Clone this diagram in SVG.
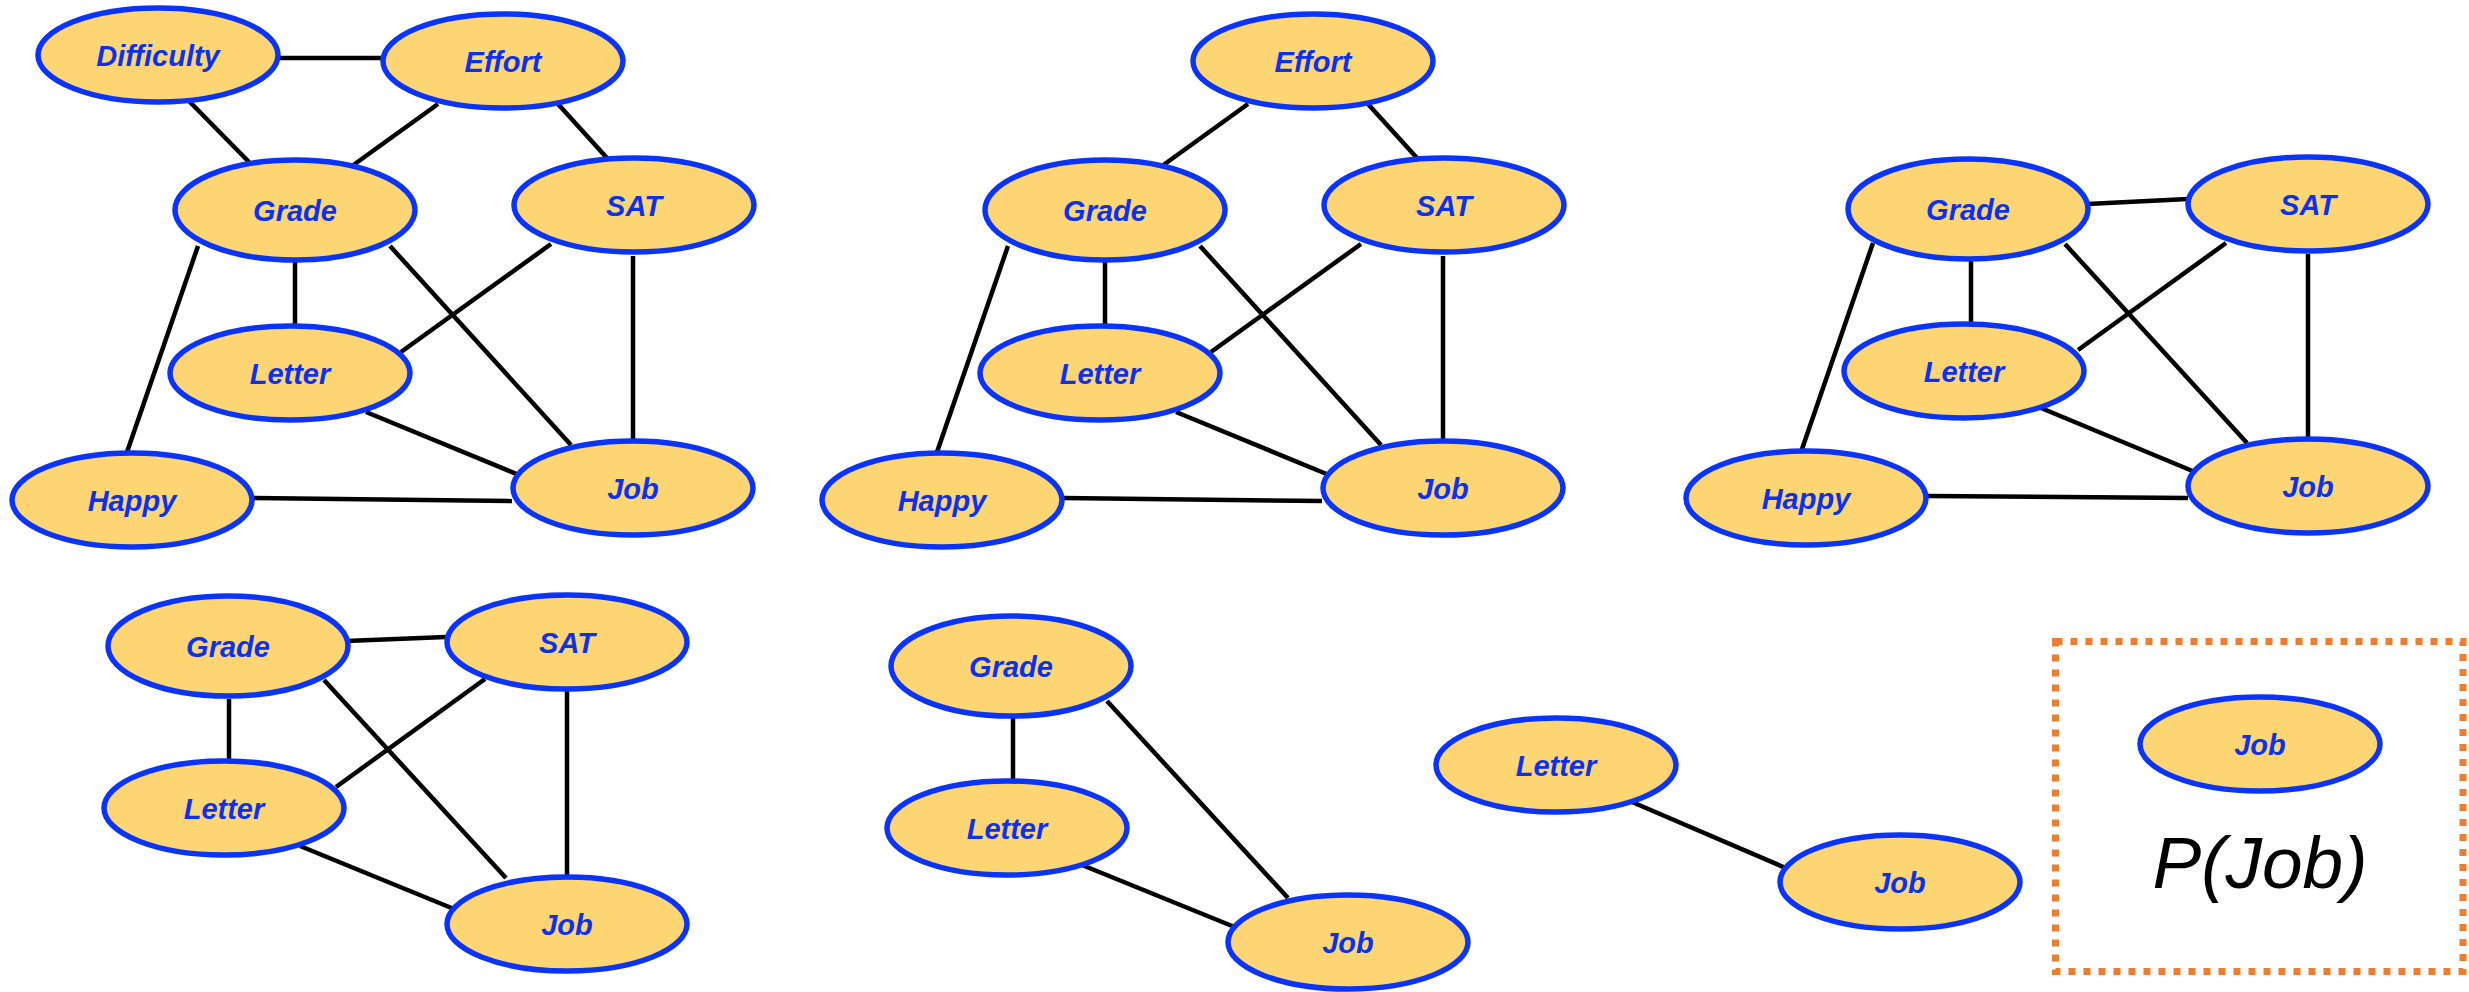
<svg xmlns="http://www.w3.org/2000/svg" width="2469" height="992" viewBox="0 0 2469 992">
<style>
.bg{fill:#ffffff}
.node ellipse{fill:#FDD673;stroke:#0A34FA;stroke-width:5.5}
.node text{font-family:"Liberation Sans",Arial,sans-serif;font-weight:bold;font-style:italic;font-size:29px;fill:#0A30F0;text-anchor:middle}
#connectors line{stroke:#000000;stroke-width:4.5;stroke-linecap:butt}
.box{fill:none;stroke:#ED7D31;stroke-width:7;stroke-dasharray:7 8}
.formula{font-family:"Liberation Sans",Arial,sans-serif;font-style:italic;font-size:73px;fill:#000000;text-anchor:middle}
</style>
<rect class="bg" x="0" y="0" width="2469" height="992"/>
<g id="connectors">
<!-- panel 1 -->
<line x1="279" y1="58" x2="382" y2="58"/>
<line x1="188" y1="100" x2="249" y2="162"/>
<line x1="438" y1="104" x2="352" y2="166"/>
<line x1="558" y1="104" x2="607" y2="158"/>
<line x1="295" y1="262" x2="295" y2="324"/>
<line x1="198" y1="246" x2="126" y2="455"/>
<line x1="390" y1="246" x2="571" y2="445"/>
<line x1="551" y1="244" x2="401" y2="352"/>
<line x1="633" y1="256" x2="633" y2="441"/>
<line x1="366" y1="412" x2="519" y2="475"/>
<line x1="253" y1="498" x2="512" y2="501"/>
<!-- panel 2 -->
<line x1="1248" y1="104" x2="1162" y2="166"/>
<line x1="1368" y1="104" x2="1417" y2="158"/>
<line x1="1105" y1="262" x2="1105" y2="324"/>
<line x1="1008" y1="246" x2="936" y2="455"/>
<line x1="1200" y1="246" x2="1381" y2="445"/>
<line x1="1361" y1="244" x2="1211" y2="352"/>
<line x1="1443" y1="256" x2="1443" y2="441"/>
<line x1="1176" y1="412" x2="1329" y2="475"/>
<line x1="1063" y1="498" x2="1322" y2="501"/>
<!-- panel 3 -->
<line x1="2087" y1="204" x2="2188" y2="199"/>
<line x1="1971" y1="261" x2="1971" y2="322"/>
<line x1="1873" y1="243" x2="1801" y2="452"/>
<line x1="2065" y1="244" x2="2247" y2="443"/>
<line x1="2226" y1="243" x2="2078" y2="350"/>
<line x1="2308" y1="254" x2="2308" y2="438"/>
<line x1="2041" y1="408" x2="2195" y2="472"/>
<line x1="1927" y1="496" x2="2188" y2="498"/>
<!-- panel 4 -->
<line x1="346" y1="641" x2="446" y2="637"/>
<line x1="229" y1="699" x2="229" y2="759"/>
<line x1="324" y1="680" x2="506" y2="878"/>
<line x1="485" y1="679" x2="336" y2="787"/>
<line x1="567" y1="691" x2="567" y2="875"/>
<line x1="300" y1="846" x2="454" y2="909"/>
<!-- panel 5 -->
<line x1="1013" y1="717" x2="1013" y2="779"/>
<line x1="1107" y1="701" x2="1288" y2="898"/>
<line x1="1082" y1="865" x2="1237" y2="928"/>
<!-- panel 6 -->
<line x1="1632" y1="802" x2="1788" y2="869"/>
</g>
<!-- panel 1 nodes -->
<g id="p1-difficulty" class="node"><ellipse cx="158" cy="55" rx="120" ry="47"/><text x="158" y="65.5">Difficulty</text></g>
<g id="p1-effort" class="node"><ellipse cx="503" cy="61" rx="120" ry="47"/><text x="503" y="71.5">Effort</text></g>
<g id="p1-grade" class="node"><ellipse cx="295" cy="210" rx="120" ry="50"/><text x="295" y="220.5">Grade</text></g>
<g id="p1-sat" class="node"><ellipse cx="634" cy="205" rx="120" ry="47"/><text x="634" y="215.5">SAT</text></g>
<g id="p1-letter" class="node"><ellipse cx="290" cy="373" rx="120" ry="47"/><text x="290" y="383.5">Letter</text></g>
<g id="p1-happy" class="node"><ellipse cx="132" cy="500" rx="120" ry="47"/><text x="132" y="510.5">Happy</text></g>
<g id="p1-job" class="node"><ellipse cx="633" cy="488" rx="120" ry="47"/><text x="633" y="498.5">Job</text></g>
<!-- panel 2 nodes -->
<g id="p2-effort" class="node"><ellipse cx="1313" cy="61" rx="120" ry="47"/><text x="1313" y="71.5">Effort</text></g>
<g id="p2-grade" class="node"><ellipse cx="1105" cy="210" rx="120" ry="50"/><text x="1105" y="220.5">Grade</text></g>
<g id="p2-sat" class="node"><ellipse cx="1444" cy="205" rx="120" ry="47"/><text x="1444" y="215.5">SAT</text></g>
<g id="p2-letter" class="node"><ellipse cx="1100" cy="373" rx="120" ry="47"/><text x="1100" y="383.5">Letter</text></g>
<g id="p2-happy" class="node"><ellipse cx="942" cy="500" rx="120" ry="47"/><text x="942" y="510.5">Happy</text></g>
<g id="p2-job" class="node"><ellipse cx="1443" cy="488" rx="120" ry="47"/><text x="1443" y="498.5">Job</text></g>
<!-- panel 3 nodes -->
<g id="p3-grade" class="node"><ellipse cx="1968" cy="209" rx="120" ry="50"/><text x="1968" y="219.5">Grade</text></g>
<g id="p3-sat" class="node"><ellipse cx="2308" cy="204" rx="120" ry="47"/><text x="2308" y="214.5">SAT</text></g>
<g id="p3-letter" class="node"><ellipse cx="1964" cy="371" rx="120" ry="47"/><text x="1964" y="381.5">Letter</text></g>
<g id="p3-happy" class="node"><ellipse cx="1806" cy="498" rx="120" ry="47"/><text x="1806" y="508.5">Happy</text></g>
<g id="p3-job" class="node"><ellipse cx="2308" cy="486" rx="120" ry="47"/><text x="2308" y="496.5">Job</text></g>
<!-- panel 4 nodes -->
<g id="p4-grade" class="node"><ellipse cx="228" cy="646" rx="120" ry="50"/><text x="228" y="656.5">Grade</text></g>
<g id="p4-sat" class="node"><ellipse cx="567" cy="642" rx="120" ry="47"/><text x="567" y="652.5">SAT</text></g>
<g id="p4-letter" class="node"><ellipse cx="224" cy="808" rx="120" ry="47"/><text x="224" y="818.5">Letter</text></g>
<g id="p4-job" class="node"><ellipse cx="567" cy="924" rx="120" ry="47"/><text x="567" y="934.5">Job</text></g>
<!-- panel 5 nodes -->
<g id="p5-grade" class="node"><ellipse cx="1011" cy="666" rx="120" ry="50"/><text x="1011" y="676.5">Grade</text></g>
<g id="p5-letter" class="node"><ellipse cx="1007" cy="828" rx="120" ry="47"/><text x="1007" y="838.5">Letter</text></g>
<g id="p5-job" class="node"><ellipse cx="1348" cy="942" rx="120" ry="47"/><text x="1348" y="952.5">Job</text></g>
<!-- panel 6 nodes -->
<g id="p6-letter" class="node"><ellipse cx="1556" cy="765" rx="120" ry="47"/><text x="1556" y="775.5">Letter</text></g>
<g id="p6-job" class="node"><ellipse cx="1900" cy="882" rx="120" ry="47"/><text x="1900" y="892.5">Job</text></g>
<!-- marginal box -->
<g id="marginal">
<rect class="box" x="2055.5" y="641.5" width="407.5" height="330"/>
<g id="p7-job" class="node"><ellipse cx="2260" cy="744" rx="120" ry="47"/><text x="2260" y="754.5">Job</text></g>
<text class="formula" x="2260" y="888">P(Job)</text>
</g>
</svg>
